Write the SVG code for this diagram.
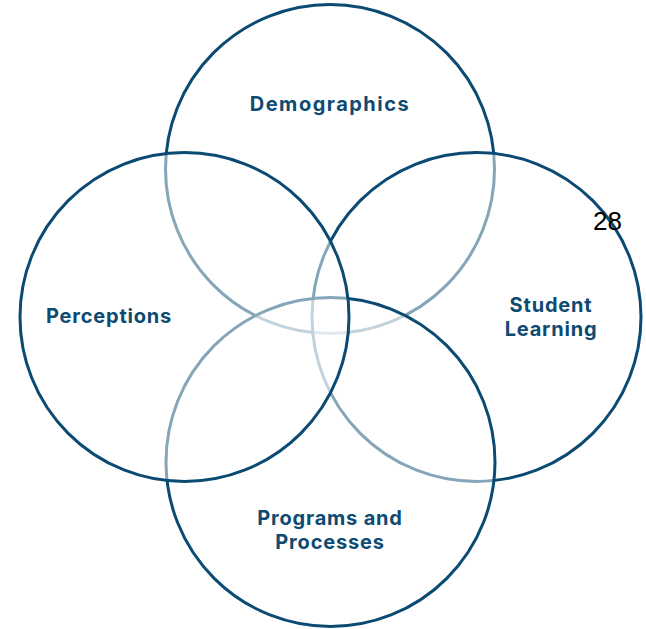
<svg xmlns="http://www.w3.org/2000/svg" width="646" height="629" viewBox="0 0 646 629">
<style>
.c{fill:#ffffff;fill-opacity:0.5;stroke:#0b4a72;stroke-width:3}
.t{font-family:Inter,"Liberation Sans",sans-serif;font-weight:700;font-size:20px;fill:#0e4a72;text-anchor:middle;letter-spacing:0.8px}
</style>
<rect width="646" height="629" fill="#ffffff"/>
<g id="demographics"><circle class="c" cx="330" cy="169" r="164.5"/></g>
<g id="student-learning"><circle class="c" cx="476.5" cy="317" r="164.5"/></g>
<g id="programs"><circle class="c" cx="330.5" cy="462" r="164.5"/></g>
<g id="perceptions"><circle class="c" cx="184.5" cy="317" r="164.5"/></g>
<g id="labels">
<text class="t" x="330" y="111" style="letter-spacing:1.5px">Demographics</text>
<text class="t" x="109" y="323">Perceptions</text>
<text class="t" x="551" y="312">Student</text>
<text class="t" x="551" y="336">Learning</text>
<text class="t" x="330" y="525">Programs and</text>
<text class="t" x="330" y="549">Processes</text>
<text x="593" y="230" font-family="'Liberation Sans',Arial,sans-serif" font-size="26" fill="#000000">28</text>
</g>
</svg>
